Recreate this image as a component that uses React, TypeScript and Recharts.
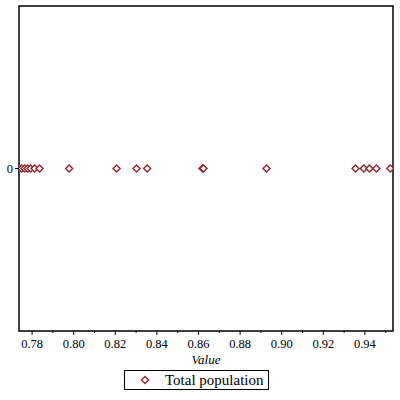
import { ScatterChart, Scatter, XAxis, YAxis, ReferenceArea, Legend } from "recharts"

const values = [
  0.774, 0.775, 0.7764, 0.7778, 0.7793, 0.7812, 0.7836, 0.7978, 0.8206, 0.8302,
  0.8353, 0.8619, 0.8624, 0.8927, 0.9355, 0.9395, 0.9422, 0.9455, 0.9522,
]
const xTicks = [0.78, 0.79, 0.8, 0.81, 0.82, 0.83, 0.84, 0.85, 0.86, 0.87, 0.88, 0.89, 0.9, 0.91, 0.92, 0.93, 0.94, 0.95]
const xDomain = [0.7737, 0.9535]
const seriesName = "Total population"

const data = values.map((v) => ({ x: v, y: 0 }))

const RED = "#8e2b35"
const FONT = "Liberation Serif, DejaVu Serif, serif"

const Diamond = (props: any) => {
  const { cx, cy } = props
  const r = 3.5
  return (
    <path
      d={`M${cx},${cy - r}L${cx + r},${cy}L${cx},${cy + r}L${cx - r},${cy}Z`}
      fill="#fff"
      stroke={RED}
      strokeWidth={1.5}
    />
  )
}

const XTick = (props: any) => {
  const { x, y, payload } = props
  const major = Math.round(payload.value * 100) % 2 === 0
  return (
    <g>
      <line x1={x} y1={y} x2={x} y2={y + (major ? 4 : 2)} stroke="#000" />
      {major && (
        <text x={x} y={y + 17} textAnchor="middle" fontSize={12.5} style={{ fontFamily: FONT }} fill="#000">
          {payload.value.toFixed(2)}
        </text>
      )}
    </g>
  )
}

const YTick = (props: any) => {
  const { x, y } = props
  return (
    <g>
      <line x1={x - 4} y1={y} x2={x} y2={y} stroke="#000" />
      <text x={x - 6} y={y + 4.5} textAnchor="end" fontSize={12.5} style={{ fontFamily: FONT }} fill="#000">
        0
      </text>
    </g>
  )
}

const LegendBox = () => (
  <div style={{ height: 34, paddingTop: 4, boxSizing: "border-box", display: "flex", justifyContent: "center" }}>
    <div
      style={{
        width: 145,
        height: 20,
        border: "1px solid #000",
        boxSizing: "border-box",
        display: "flex",
        alignItems: "center",
        fontFamily: FONT,
        fontSize: 15,
        color: "#000",
      }}
    >
      <svg width={40} height={18}>
        <Diamond cx={20} cy={9} />
      </svg>
      <span>{seriesName}</span>
    </div>
  </div>
)

export default function App() {
  return (
    <div style={{ position: "absolute", left: 0, top: 0, width: 400, height: 400, background: "#fff" }}>
      <ScatterChart width={400} height={400} margin={{ top: 6, right: 7, bottom: 0, left: 0 }}>
        <XAxis
          type="number"
          dataKey="x"
          domain={xDomain}
          ticks={xTicks}
          allowDataOverflow
          axisLine={false}
          tickLine={false}
          tickSize={0}
          tickMargin={0}
          tick={<XTick />}
          height={35}
          interval={0}
          label={{
            value: "Value",
            position: "insideBottom",
            offset: 2,
            fontStyle: "italic",
            fontSize: 13,
            style: { fontFamily: FONT },
            fill: "#000",
          }}
        />
        <YAxis
          type="number"
          dataKey="y"
          domain={[-1, 1]}
          ticks={[0]}
          width={19}
          axisLine={false}
          tickLine={false}
          tickSize={0}
          tickMargin={0}
          tick={<YTick />}
        />
        <ReferenceArea
          x1={xDomain[0]}
          x2={xDomain[1]}
          y1={-1}
          y2={1}
          fill="none"
          stroke="#000"
          strokeWidth={1.5}
          ifOverflow="visible"
        />
        <Scatter name={seriesName} data={data} shape={<Diamond />} isAnimationActive={false} />
        <Legend verticalAlign="bottom" content={<LegendBox />} height={34} />
      </ScatterChart>
    </div>
  )
}
